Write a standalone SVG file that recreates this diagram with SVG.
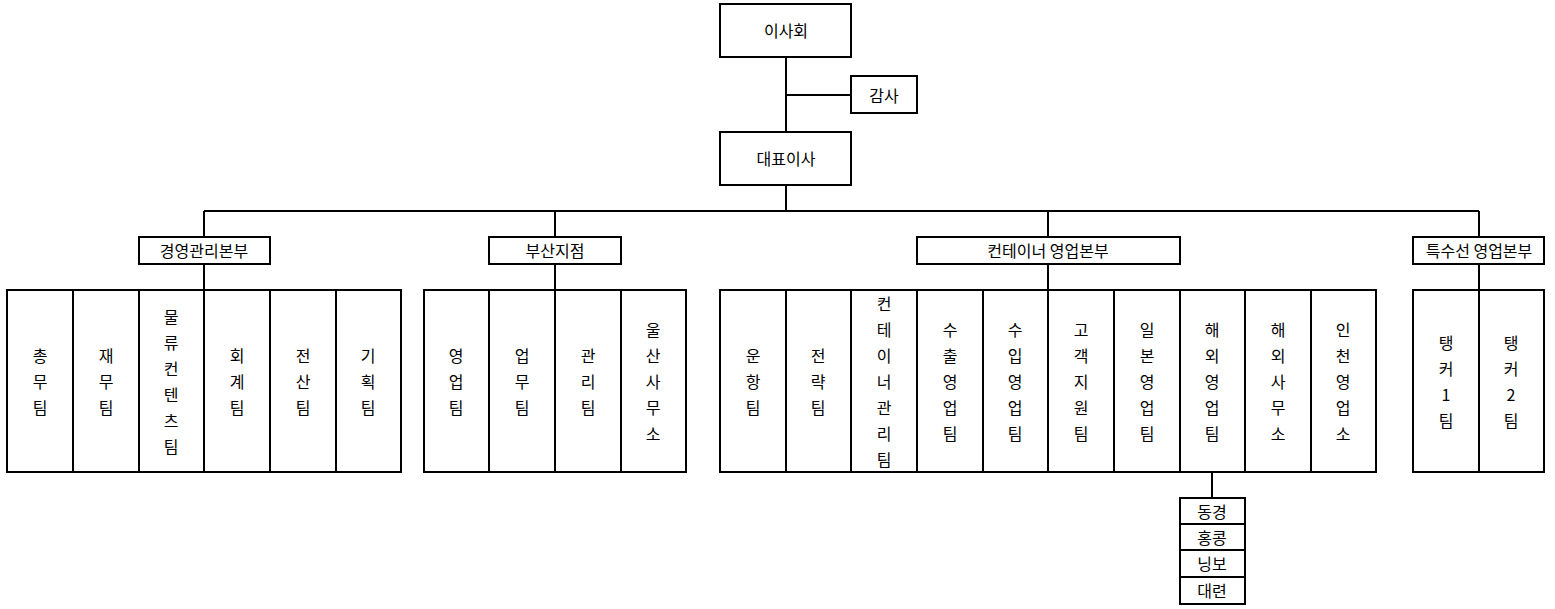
<svg xmlns="http://www.w3.org/2000/svg" width="1555" height="609" viewBox="0 0 1555 609">
<style>
rect{fill:#fff;stroke:#000;stroke-width:2}
line{stroke:#000;stroke-width:2}
text{font-family:"Noto Sans CJK KR",sans-serif;font-size:16px;text-anchor:middle;dominant-baseline:central;fill:#000}
</style>
<rect x="0" y="0" width="1555" height="609" style="fill:#fff;stroke:none"/>
<g id="connectors">
<line x1="786" y1="57" x2="786" y2="132"/><line x1="786" y1="95" x2="851" y2="95"/>
<line x1="786" y1="185" x2="786" y2="211"/><line x1="204" y1="211" x2="1479" y2="211"/>
<line x1="204" y1="211" x2="204" y2="290"/><line x1="555" y1="211" x2="555" y2="290"/>
<line x1="1048" y1="211" x2="1048" y2="290"/><line x1="1479" y1="211" x2="1479" y2="290"/>
<line x1="1212" y1="472" x2="1212" y2="498"/>
</g>
<g id="n-board"><rect x="720" y="4" width="131" height="53"/><text x="786" y="30">이사회</text></g>
<g id="n-audit"><rect x="851" y="76" width="66" height="37"/><text x="884" y="95">감사</text></g>
<g id="n-ceo"><rect x="720" y="132" width="131" height="53"/><text x="786" y="158">대표이사</text></g>
<g id="d1"><rect x="139" y="237" width="131" height="27"/><text x="204" y="250">경영관리본부</text></g>
<g id="d2"><rect x="489" y="237" width="132" height="27"/><text x="555" y="250">부산지점</text></g>
<g id="d3"><rect x="917" y="237" width="263" height="27"/><text x="1048" y="250">컨테이너 영업본부</text></g>
<g id="d4"><rect x="1413" y="237" width="131" height="27"/><text x="1479" y="250">특수선 영업본부</text></g>
<g id="g1">
<rect x="7" y="290" width="66" height="182"/><text x="40"><tspan x="40" y="355">총</tspan><tspan x="40" y="381">무</tspan><tspan x="40" y="407">팀</tspan></text>
<rect x="73" y="290" width="66" height="182"/><text><tspan x="106" y="355">재</tspan><tspan x="106" y="381">무</tspan><tspan x="106" y="407">팀</tspan></text>
<rect x="139" y="290" width="65" height="182"/><text><tspan x="171" y="316">물</tspan><tspan x="171" y="342">류</tspan><tspan x="171" y="368">컨</tspan><tspan x="171" y="394">텐</tspan><tspan x="171" y="420">츠</tspan><tspan x="171" y="446">팀</tspan></text>
<rect x="204" y="290" width="66" height="182"/><text><tspan x="237" y="355">회</tspan><tspan x="237" y="381">계</tspan><tspan x="237" y="407">팀</tspan></text>
<rect x="270" y="290" width="66" height="182"/><text><tspan x="303" y="355">전</tspan><tspan x="303" y="381">산</tspan><tspan x="303" y="407">팀</tspan></text>
<rect x="336" y="290" width="65" height="182"/><text><tspan x="368" y="355">기</tspan><tspan x="368" y="381">획</tspan><tspan x="368" y="407">팀</tspan></text>
</g>
<g id="g2">
<rect x="424" y="290" width="65" height="182"/><text><tspan x="456" y="355">영</tspan><tspan x="456" y="381">업</tspan><tspan x="456" y="407">팀</tspan></text>
<rect x="489" y="290" width="66" height="182"/><text><tspan x="522" y="355">업</tspan><tspan x="522" y="381">무</tspan><tspan x="522" y="407">팀</tspan></text>
<rect x="555" y="290" width="66" height="182"/><text><tspan x="588" y="355">관</tspan><tspan x="588" y="381">리</tspan><tspan x="588" y="407">팀</tspan></text>
<rect x="621" y="290" width="65" height="182"/><text><tspan x="653" y="329">울</tspan><tspan x="653" y="355">산</tspan><tspan x="653" y="381">사</tspan><tspan x="653" y="407">무</tspan><tspan x="653" y="433">소</tspan></text>
</g>
<g id="g3">
<rect x="720" y="290" width="66" height="182"/><text><tspan x="753" y="355">운</tspan><tspan x="753" y="381">항</tspan><tspan x="753" y="407">팀</tspan></text>
<rect x="786" y="290" width="65" height="182"/><text><tspan x="818" y="355">전</tspan><tspan x="818" y="381">략</tspan><tspan x="818" y="407">팀</tspan></text>
<rect x="851" y="290" width="66" height="182"/><text><tspan x="884" y="303">컨</tspan><tspan x="884" y="329">테</tspan><tspan x="884" y="355">이</tspan><tspan x="884" y="381">너</tspan><tspan x="884" y="407">관</tspan><tspan x="884" y="433">리</tspan><tspan x="884" y="459">팀</tspan></text>
<rect x="917" y="290" width="66" height="182"/><text><tspan x="950" y="329">수</tspan><tspan x="950" y="355">출</tspan><tspan x="950" y="381">영</tspan><tspan x="950" y="407">업</tspan><tspan x="950" y="433">팀</tspan></text>
<rect x="983" y="290" width="65" height="182"/><text><tspan x="1015" y="329">수</tspan><tspan x="1015" y="355">입</tspan><tspan x="1015" y="381">영</tspan><tspan x="1015" y="407">업</tspan><tspan x="1015" y="433">팀</tspan></text>
<rect x="1048" y="290" width="66" height="182"/><text><tspan x="1081" y="329">고</tspan><tspan x="1081" y="355">객</tspan><tspan x="1081" y="381">지</tspan><tspan x="1081" y="407">원</tspan><tspan x="1081" y="433">팀</tspan></text>
<rect x="1114" y="290" width="66" height="182"/><text><tspan x="1147" y="329">일</tspan><tspan x="1147" y="355">본</tspan><tspan x="1147" y="381">영</tspan><tspan x="1147" y="407">업</tspan><tspan x="1147" y="433">팀</tspan></text>
<rect x="1180" y="290" width="65" height="182"/><text><tspan x="1212" y="329">해</tspan><tspan x="1212" y="355">외</tspan><tspan x="1212" y="381">영</tspan><tspan x="1212" y="407">업</tspan><tspan x="1212" y="433">팀</tspan></text>
<rect x="1245" y="290" width="66" height="182"/><text><tspan x="1278" y="329">해</tspan><tspan x="1278" y="355">외</tspan><tspan x="1278" y="381">사</tspan><tspan x="1278" y="407">무</tspan><tspan x="1278" y="433">소</tspan></text>
<rect x="1311" y="290" width="65" height="182"/><text><tspan x="1343" y="329">인</tspan><tspan x="1343" y="355">천</tspan><tspan x="1343" y="381">영</tspan><tspan x="1343" y="407">업</tspan><tspan x="1343" y="433">소</tspan></text>
</g>
<g id="g4">
<rect x="1413" y="290" width="66" height="182"/><text><tspan x="1446" y="342">탱</tspan><tspan x="1446" y="368">커</tspan><tspan x="1446" y="394">1</tspan><tspan x="1446" y="420">팀</tspan></text>
<rect x="1479" y="290" width="65" height="182"/><text><tspan x="1511" y="342">탱</tspan><tspan x="1511" y="368">커</tspan><tspan x="1511" y="394">2</tspan><tspan x="1511" y="420">팀</tspan></text>
</g>
<g id="overseas">
<rect x="1180" y="498" width="65" height="26"/><text x="1212" y="511">동경</text>
<rect x="1180" y="524" width="65" height="26"/><text x="1212" y="537">홍콩</text>
<rect x="1180" y="550" width="65" height="27"/><text x="1212" y="563">닝보</text>
<rect x="1180" y="577" width="65" height="27"/><text x="1212" y="590">대련</text>
</g>
</svg>
